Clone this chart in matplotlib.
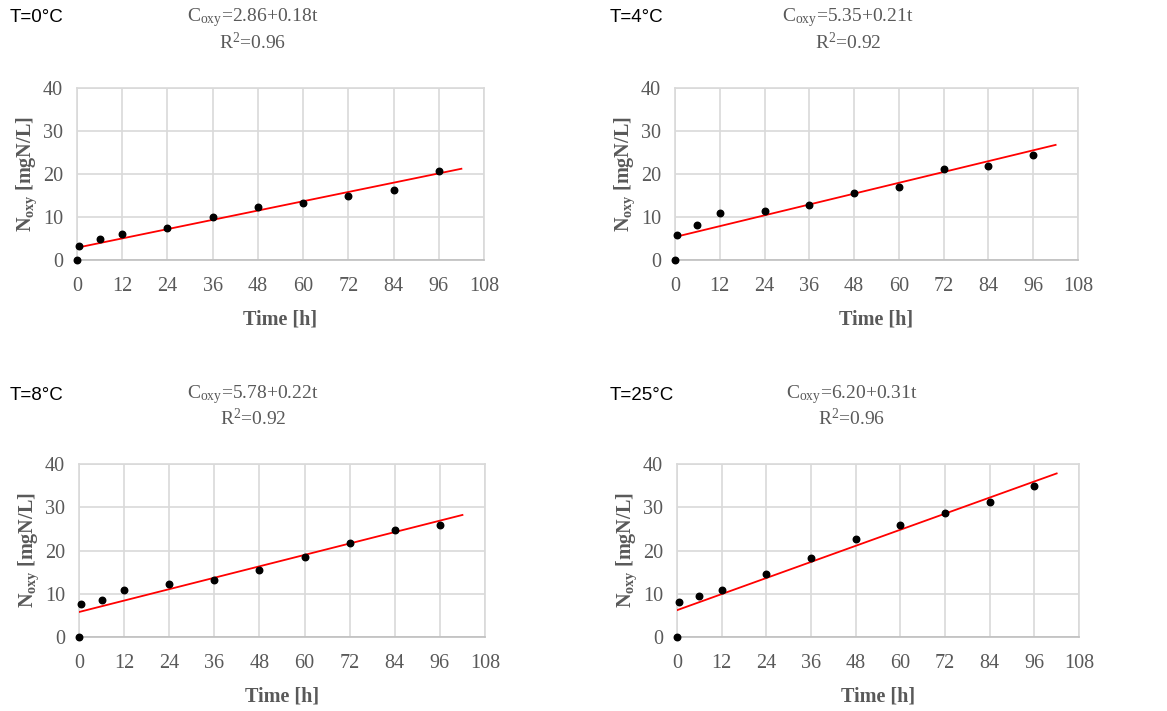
import matplotlib
import matplotlib.pyplot as plt

matplotlib.rcParams["font.family"] = ["Liberation Serif", "DejaVu Serif"]
matplotlib.rcParams["mathtext.fontset"] = "custom"
matplotlib.rcParams["mathtext.rm"] = "Liberation Serif"
matplotlib.rcParams["mathtext.it"] = "Liberation Serif:italic"
matplotlib.rcParams["mathtext.bf"] = "Liberation Serif:bold"

# 측정 시간 [h] (첫 두 점은 0 h와 직후 0.5 h)
time_h = [0, 0.5, 6, 12, 24, 36, 48, 60, 72, 84, 96]

temps = ["T=0°C", "T=4°C", "T=8°C", "T=25°C"]
n_oxy_0 = [0, 3.3, 4.8, 6.0, 7.5, 10.1, 12.4, 13.3, 15.0, 16.3, 20.7]
n_oxy_4 = [0, 5.9, 8.2, 10.9, 11.5, 12.9, 15.6, 17.0, 21.2, 21.8, 24.4]
n_oxy_8 = [0, 7.6, 8.5, 10.8, 12.3, 13.2, 15.6, 18.5, 21.8, 24.8, 25.9]
n_oxy_25 = [0, 8.2, 9.4, 10.9, 14.5, 18.3, 22.7, 26.0, 28.6, 31.3, 35.0]

intercepts = [2.86, 5.35, 5.78, 6.20]
slopes = [0.18, 0.21, 0.22, 0.31]
r_squared = [0.96, 0.92, 0.92, 0.96]

x_ticks = [0, 12, 24, 36, 48, 60, 72, 84, 96, 108]
y_ticks = [0, 10, 20, 30, 40]
fit_end = 102

series = [n_oxy_0, n_oxy_4, n_oxy_8, n_oxy_25]

W, H = 1167, 711
# 축 위치 (픽셀: left, top, right, bottom)
boxes = [
    (77, 88, 484, 260),
    (675, 88, 1078, 260),
    (79, 464, 485, 637),
    (677, 464, 1079, 637),
]
# 제목/식 위치 (픽셀: T 라벨 x, 식 중심 x, 윗줄 y)
labels_pos = [
    (10, 253, 18),
    (610, 848, 18),
    (10, 253, 395),
    (610, 852, 395),
]

GRAY = "#595959"
GRID = "#d9d9d9"

fig = plt.figure(figsize=(W / 100, H / 100), dpi=100)

for i in range(4):
    l, t, r, b = boxes[i]
    ax = fig.add_axes([l / W, 1 - b / H, (r - l) / W, (b - t) / H])

    fit_x = [0, fit_end]
    fit_y = [intercepts[i] + slopes[i] * x for x in fit_x]
    ax.plot(fit_x, fit_y, color="#ff0000", linewidth=1.3, zorder=3)
    ax.scatter(time_h, series[i], s=22, color="black", zorder=4, clip_on=False)

    ax.set_xlim(0, 108)
    ax.set_ylim(0, 40)
    ax.set_xticks(x_ticks)
    ax.set_yticks(y_ticks)
    ax.grid(color=GRID, linewidth=1.2)
    ax.set_axisbelow(True)
    for side in ["top", "right", "left"]:
        ax.spines[side].set_color(GRID)
        ax.spines[side].set_linewidth(1.2)
    ax.spines["bottom"].set_color("#bfbfbf")
    ax.spines["bottom"].set_linewidth(1.2)
    ax.tick_params(length=0, labelsize=14.5, labelcolor=GRAY)
    ax.tick_params(axis="x", pad=12)
    ax.tick_params(axis="y", pad=10)

    ax.set_xlabel("Time [h]", fontsize=14.5, fontweight="bold", color=GRAY, labelpad=10)
    ax.set_ylabel(r"N$_{\mathbf{oxy}}$ [mgN/L]", fontsize=14.5, fontweight="bold",
                  color=GRAY, labelpad=3)

    tx, ex, ey = labels_pos[i]
    fig.text(tx / W, 1 - ey / H, temps[i], family=["Liberation Sans", "DejaVu Sans"],
             fontsize=13.5, color="black", ha="left", va="center")
    fig.text(ex / W, 1 - ey / H,
             r"C$_{\mathrm{oxy}}$=" + f"{intercepts[i]:.2f}+{slopes[i]:.2f}t",
             fontsize=14, color=GRAY, ha="center", va="center")
    fig.text(ex / W, 1 - (ey + 24) / H, r"R$^{2}$=" + f"{r_squared[i]:.2f}",
             fontsize=14, color=GRAY, ha="center", va="center")

fig.savefig("out.png", dpi=100)
